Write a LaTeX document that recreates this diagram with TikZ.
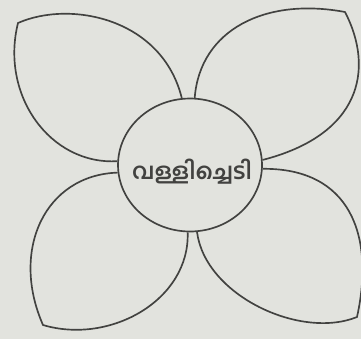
\documentclass[tikz,border=0pt]{standalone}
\usepackage{fontspec}
\newfontfamily\malfont[Script=Malayalam]{Hind Kochi}
\usetikzlibrary{shapes.geometric}
\definecolor{paper}{RGB}{226,227,222}
\definecolor{ink}{RGB}{66,66,64}
\begin{document}
\begin{tikzpicture}[x=0.02cm, y=-0.02cm,
    petal/.style={draw=ink, line width=0.95pt, line join=round},
    core/.style={draw=ink, line width=0.95pt, ellipse, inner sep=0pt,
                 minimum width=2.88cm, minimum height=2.66cm},
  ]
    % fondo
    \fill[paper] (0,0) rectangle (361,339);
    \useasboundingbox (0,0) rectangle (361,339);

    % centro
    \node[core] (c) at (190,165) {};
    \node[text=ink, font=\malfont\fontsize{12.8}{15}\selectfont\bfseries] (name) at (192,172) {വള്ളിച്ചെടി};

    % petalos
    \draw[petal] (c.97) .. controls (162,18) and (70,0) .. (18,23)
                        .. controls (0,95) and (50,165) .. (c.177);
    \draw[petal] (c.86) .. controls (200,30) and (265,-3) .. (345,12)
                        .. controls (375,70) and (360,135) .. (c.4);
    \draw[petal] (c.186) .. controls (45,175) and (10,250) .. (43,325)
                         .. controls (110,345) and (190,300) .. (c.268);
    \draw[petal] (c.276) .. controls (205,295) and (300,340) .. (357,317)
                         .. controls (375,235) and (350,168) .. (c.357);
  \end{tikzpicture}
\end{document}
